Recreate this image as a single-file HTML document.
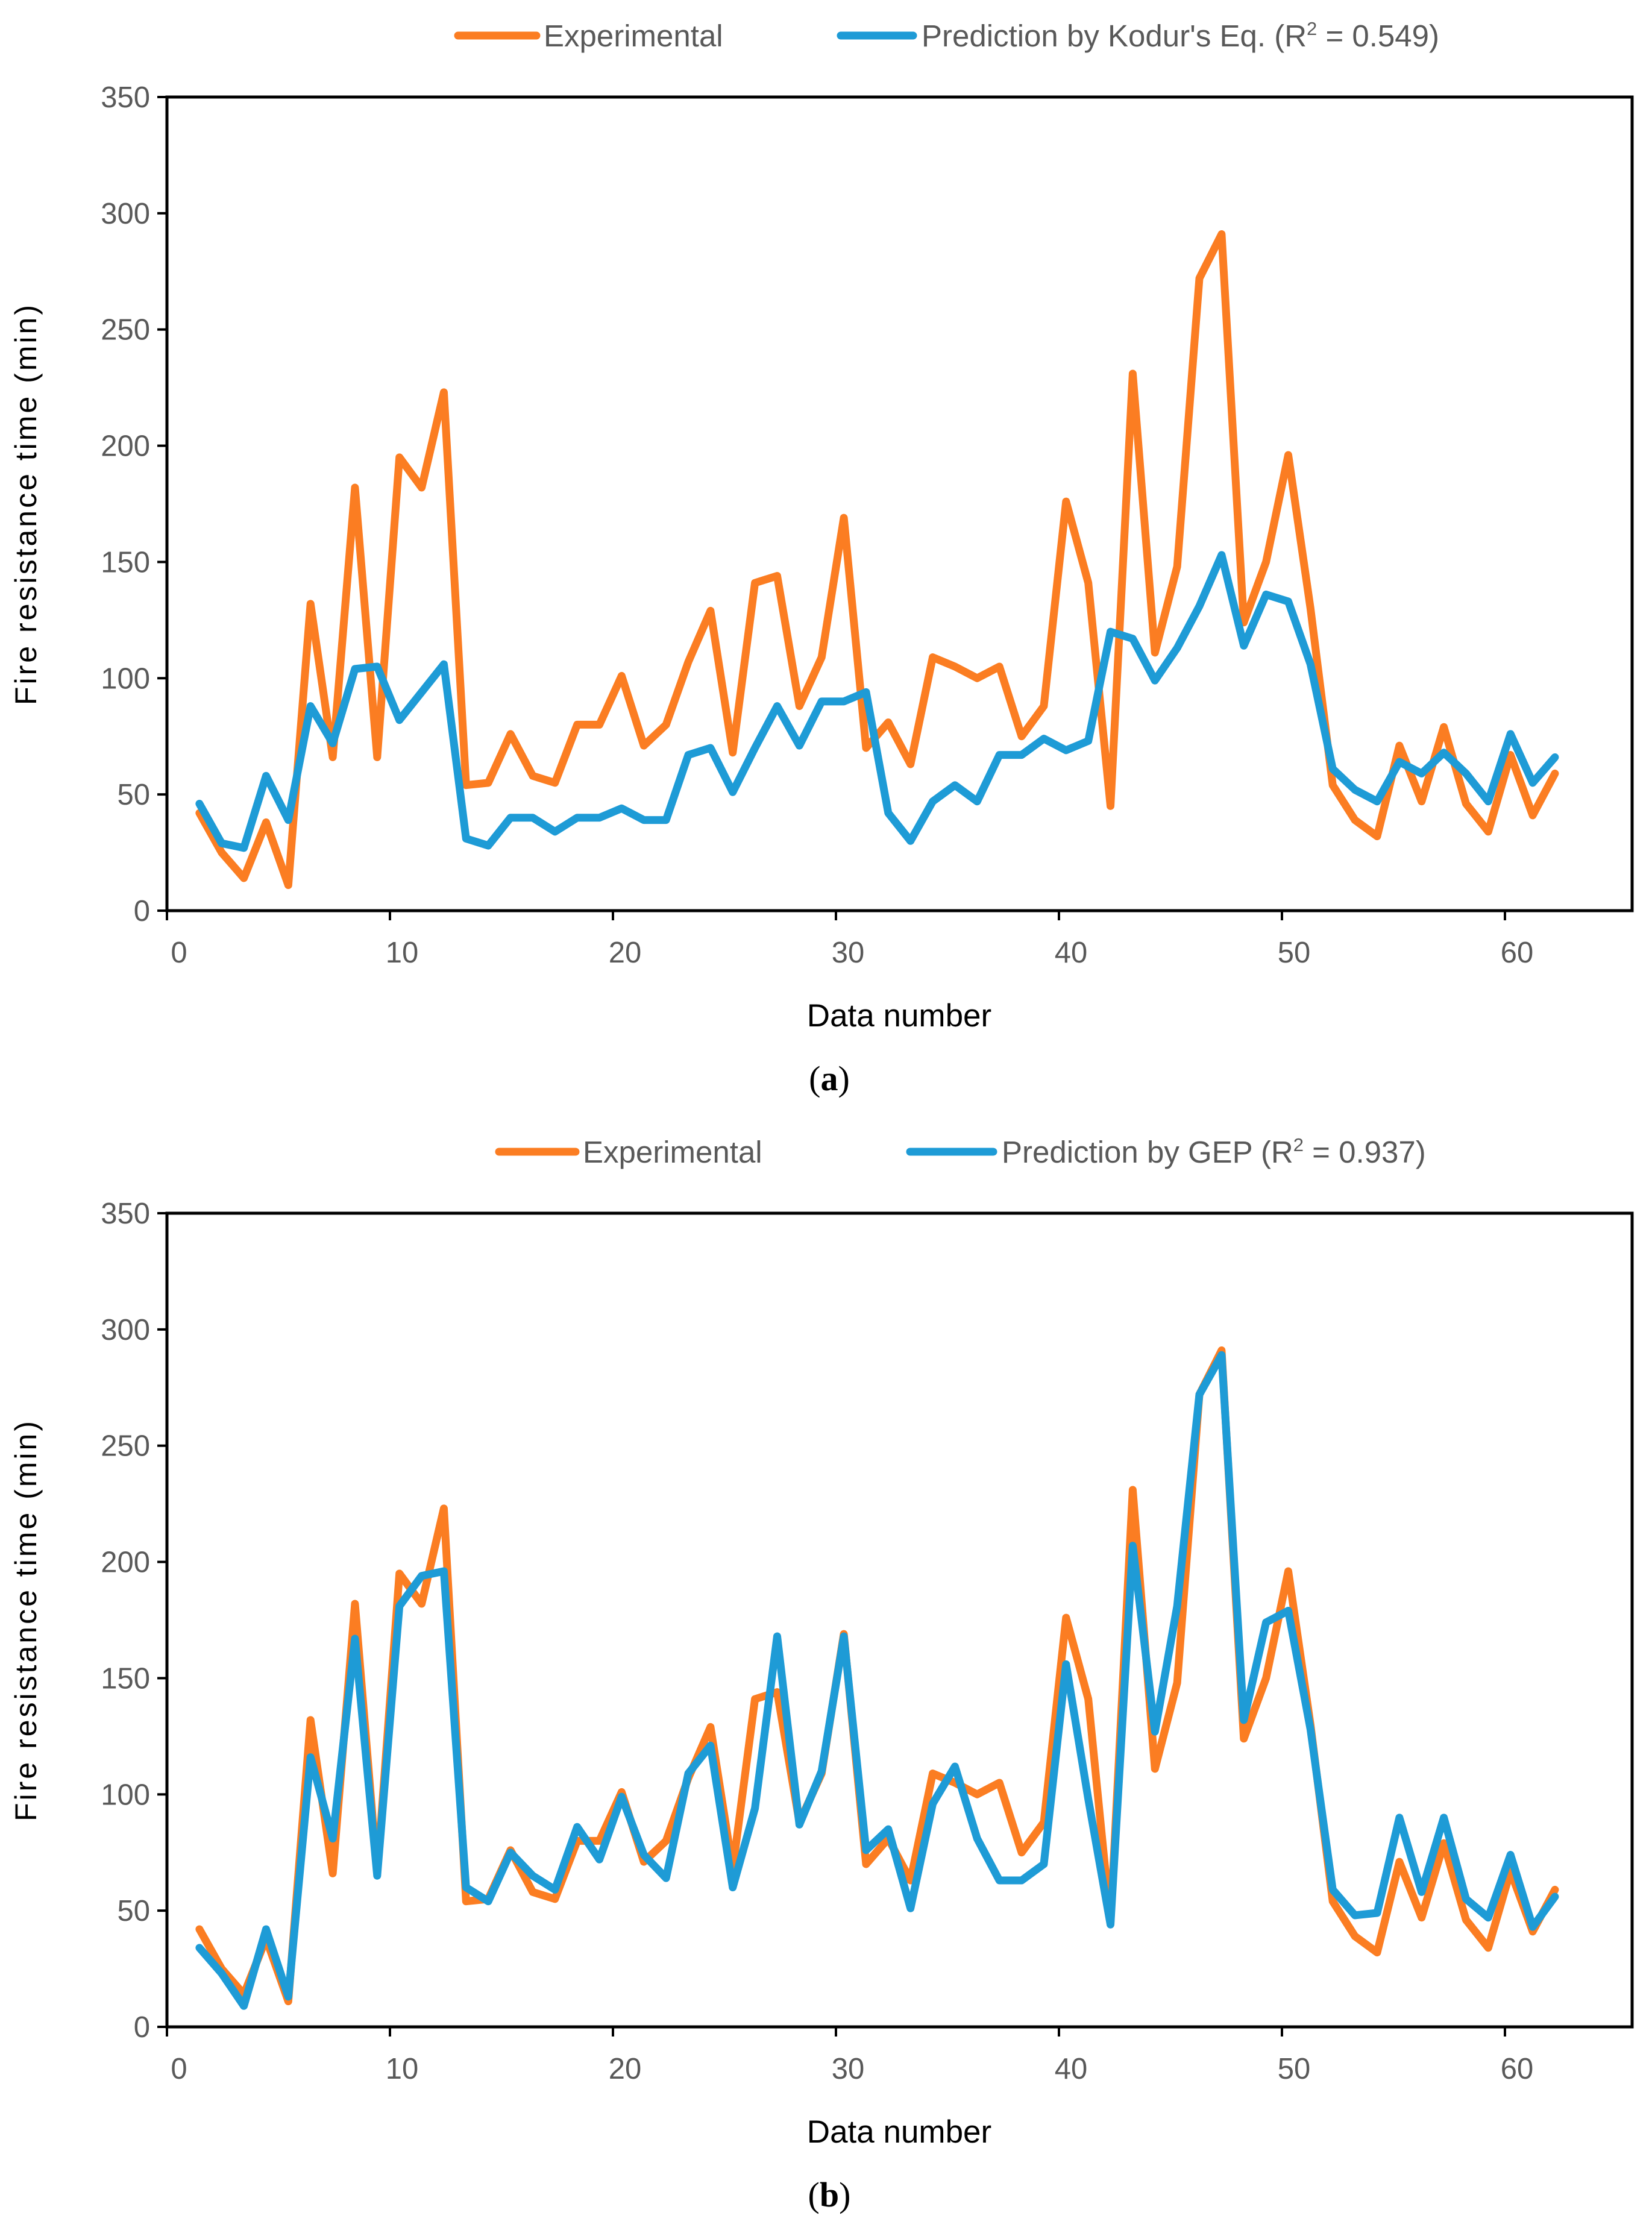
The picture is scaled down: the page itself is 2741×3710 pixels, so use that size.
<!DOCTYPE html>
<html><head><meta charset="utf-8"><style>
html,body{margin:0;padding:0;background:#fff;}
svg{display:block;font-family:"Liberation Sans",sans-serif;}
</style></head><body>
<svg id="chart" width="2741" height="3710" viewBox="0 0 2741 3710" xmlns="http://www.w3.org/2000/svg"></svg>
<script>
const xTickLabels = ["0","10","20","30","40","50","60"];
const yTickLabels = ["0","50","100","150","200","250","300","350"];
const experimental = [42,25,14,38,11,132,66,182,66,195,182,223,54,55,76,58,55,80,80,101,71,80,107,129,68,141,144,88,109,169,70,81,63,109,105,100,105,75,88,176,141,45,231,111,148,272,291,124,150,196,130,54,39,32,71,47,79,46,34,67,41,59];
const kodur = [46,29,27,58,39,88,72,104,105,82,94,106,31,28,40,40,34,40,40,44,39,39,67,70,51,70,88,71,90,90,94,42,30,47,54,47,67,67,74,69,73,120,117,99,113,131,153,114,136,133,106,61,52,47,64,59,68,59,47,76,55,66];
const gep = [34,23,9,42,13,116,81,167,65,181,194,196,60,54,75,65,59,86,72,99,74,64,109,121,60,94,168,87,110,168,76,85,51,96,112,81,63,63,70,156,98,44,207,127,181,272,289,132,174,179,128,59,48,49,90,58,90,55,47,74,43,56];

const NS="http://www.w3.org/2000/svg";
const svg=document.getElementById('chart');
function mk(tag,attrs,parent){const e=document.createElementNS(NS,tag);for(const k in attrs)e.setAttribute(k,attrs[k]);(parent||svg).appendChild(e);return e;}
const ORANGE="#fb7d22", BLUE="#1e9bd6", GRAY="#595959";

function panel(top, pred, predLabel, leg, caption, key){
  const L=277,R=2708,T=top,B=top+1350;
  const xs=i=>294+i*36.87;
  const ys=v=>B-v*(1350/350);
  const g=mk('g',{});
  
  
  const box=mk('rect',{x:L,y:T,width:R-L,height:B-T,fill:'none',stroke:'#000','stroke-width':5},g);
  
  
  yTickLabels.forEach((t,k)=>{
    const y=ys(+t);
    const tk=mk('line',{x1:L-16,x2:L,y1:y,y2:y,stroke:'#000','stroke-width':4},g);
    
    
    const tx=mk('text',{x:L-28,y:y+17,'text-anchor':'end','font-size':49,fill:GRAY},g);
    
    
    tx.textContent=t;
  });
  xTickLabels.forEach((t,k)=>{
    const x=L+k*370;
    const tk=mk('line',{x1:x,x2:x,y1:B,y2:B+16,stroke:'#000','stroke-width':4},g);
    
    
    const tx=mk('text',{x:297+(+t)*37,y:B+86,'text-anchor':'middle','font-size':49,fill:GRAY},g);
    
    
    tx.textContent=t;
  });
  function series(arr,color,name){
    const p=mk('polyline',{points:arr.map((v,i)=>xs(i+1)+','+ys(v)).join(' '),fill:'none',stroke:color,'stroke-width':13,'stroke-linejoin':'round','stroke-linecap':'round'},g);
    
    
  }
  series(experimental,ORANGE,'experimental-line');
  series(pred,BLUE,'prediction-line');
  const ly=top-102;
  const l1=mk('line',{x1:leg[0],x2:leg[1],y1:ly,y2:ly,stroke:ORANGE,'stroke-width':13,'stroke-linecap':'round'},g);
  
  
  const t1=mk('text',{x:leg[1]+12,y:ly+18,'font-size':51,fill:GRAY},g);
  
  
  t1.textContent='Experimental';
  const l2=mk('line',{x1:leg[2],x2:leg[3],y1:ly,y2:ly,stroke:BLUE,'stroke-width':13,'stroke-linecap':'round'},g);
  
  
  const t2=mk('text',{x:leg[3]+14,y:ly+18,'font-size':51,fill:GRAY},g);
  
  
  t2.innerHTML=predLabel;
  const yt=mk('text',{x:0,y:0,'text-anchor':'middle','font-size':50,fill:'#000','letter-spacing':4,transform:`translate(60,${(T+B)/2}) rotate(-90)`},g);
  
  
  yt.textContent='Fire resistance time (min)';
  const xt=mk('text',{x:1492,y:B+192,'text-anchor':'middle','font-size':53,fill:'#000'},g);
  
  
  xt.textContent='Data number';
  const cp=mk('text',{x:1376,y:B+298,'text-anchor':'middle','font-size':58,fill:'#000','font-family':'Liberation Serif, serif'},g);
  
  
  cp.innerHTML=caption;
}
panel(161,kodur,"Prediction by Kodur's Eq. (R<tspan font-size='31' dy='-19'>2</tspan><tspan dy='19'> = 0.549)</tspan>",[760,890,1395,1515],"(<tspan font-weight='bold'>a</tspan>)",'a');
panel(2013,gep,"Prediction by GEP (R<tspan font-size='31' dy='-19'>2</tspan><tspan dy='19'> = 0.937)</tspan>",[828,955,1510,1648],"(<tspan font-weight='bold'>b</tspan>)",'b');
</script>
</body></html>
